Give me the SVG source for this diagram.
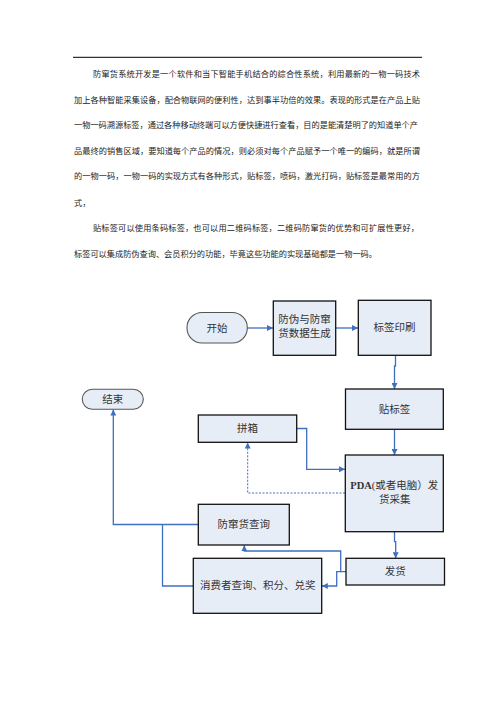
<svg xmlns="http://www.w3.org/2000/svg" width="496" height="702" viewBox="0 0 496 702">
<style>
.p{font-family:"Noto Sans CJK SC","Liberation Sans",sans-serif;font-size:8.2px;fill:#222;dominant-baseline:central}
.box{fill:#E7EDF7;stroke:#111;stroke-width:1.3}
.term{fill:#E7EDF7;stroke:#555;stroke-width:1.1}
.t{font-family:"Liberation Serif","Noto Sans CJK SC",serif;font-size:10.5px;fill:#333;text-anchor:middle;dominant-baseline:central}
.c{fill:none;stroke:#3F6FC2;stroke-width:1.3}
.d{fill:none;stroke:#3F6FC2;stroke-width:1;stroke-dasharray:2 1.5}
</style>
<defs>
<marker id="ah" viewBox="0 0 10 10" refX="10" refY="5" markerWidth="6" markerHeight="6" markerUnits="userSpaceOnUse" orient="auto">
<path d="M0,0 L10,5 L0,10 Z" fill="#3F6FC2"/>
</marker>
</defs>
<rect width="496" height="702" fill="#fff"/>
<line x1="73" y1="57.3" x2="422" y2="57.3" stroke="#000" stroke-width="1"/>
<g id="paragraph">
<text class="p" x="93" y="73.3" textLength="327" lengthAdjust="spacing">防窜货系统开发是一个软件和当下智能手机结合的综合性系统，利用最新的一物一码技术</text>
<text class="p" x="74" y="99" textLength="346" lengthAdjust="spacing">加上各种智能采集设备，配合物联网的便利性，达到事半功倍的效果。表现的形式是在产品上贴</text>
<text class="p" x="74" y="124.3" textLength="344" lengthAdjust="spacing">一物一码溯源标签，通过各种移动终端可以方便快捷进行查看，目的是能清楚明了的知道单个产</text>
<text class="p" x="74" y="150" textLength="346" lengthAdjust="spacing">品最终的销售区域，要知道每个产品的情况，则必须对每个产品赋予一个唯一的编码，就是所谓</text>
<text class="p" x="74" y="175.3" textLength="346" lengthAdjust="spacing">的一物一码，一物一码的实现方式有各种形式，贴标签，喷码，激光打码，贴标签是最常用的方</text>
<text class="p" x="74" y="201.5">式，</text>
<text class="p" x="93" y="227.3" textLength="326" lengthAdjust="spacing">贴标签可以使用条码标签，也可以用二维码标签，二维码防窜货的优势和可扩展性更好，</text>
<text class="p" x="74" y="252.5">标签可以集成防伪查询、会员积分的功能，毕竟这些功能的实现基础都是一物一码。</text>
</g>
<g id="connectors">
<path class="c" d="M247.3,328 H273" marker-end="url(#ah)"/>
<path class="c" d="M336,328 H358" marker-end="url(#ah)"/>
<path class="c" d="M395.5,355.5 V366 H394.5 V389" marker-end="url(#ah)"/>
<path class="c" d="M394.5,429.5 V455" marker-end="url(#ah)"/>
<path class="c" d="M297,428.5 H306.7 V469.3 H345" marker-end="url(#ah)"/>
<path class="d" d="M345,493 H247.7 V442.5" marker-end="url(#ah)"/>
<path class="c" d="M394.5,532 V541.7 H395.7 V558.3" marker-end="url(#ah)"/>
<path class="c" d="M346,571.7 H340.7 V551 H244.3 V545.3" marker-end="url(#ah)"/>
<path class="c" d="M340.7,571.7 H336.7 V586 H321.8" marker-end="url(#ah)"/>
<path class="c" d="M198.3,524.5 H113.3 V409.5" marker-end="url(#ah)"/>
<path class="c" d="M193.3,586 H162.5 V524.5"/>
</g>
<g id="start">
<rect class="term" x="187" y="312.5" width="60.3" height="30.5" rx="15" ry="15"/>
<text class="t" x="217" y="328">开始</text>
</g>
<g id="gen">
<rect class="box" x="273.3" y="301" width="62.4" height="54.3"/>
<text class="t" x="304.5" y="319.3">防伪与防窜</text>
<text class="t" x="304.5" y="333.5">货数据生成</text>
</g>
<g id="print">
<rect class="box" x="358.3" y="300.3" width="72.7" height="55"/>
<text class="t" x="394.6" y="327.7">标签印刷</text>
</g>
<g id="label">
<rect class="box" x="345.5" y="389" width="97.8" height="40.3"/>
<text class="t" x="394.4" y="409.2">贴标签</text>
</g>
<g id="end">
<rect class="term" x="82.3" y="389.3" width="61" height="20" rx="10" ry="10"/>
<text class="t" x="112.8" y="399.5">结束</text>
</g>
<g id="pack">
<rect class="box" x="198.3" y="415" width="98.4" height="27.3"/>
<text class="t" x="247.5" y="428.7">拼箱</text>
</g>
<g id="pda">
<rect class="box" x="345.3" y="455" width="98" height="76.7"/>
<text class="t" x="394.3" y="485"><tspan font-weight="bold">PDA</tspan>(或者电脑）发</text>
<text class="t" x="394.7" y="499.5">货采集</text>
</g>
<g id="query">
<rect class="box" x="198.3" y="504.3" width="91" height="40.7"/>
<text class="t" x="243.8" y="524.7">防窜货查询</text>
</g>
<g id="ship">
<rect class="box" x="346" y="558.3" width="98.5" height="26.7"/>
<text class="t" x="395.2" y="571.7">发货</text>
</g>
<g id="consumer">
<rect class="box" x="193.3" y="558.3" width="128.4" height="55"/>
<text class="t" x="257.8" y="585.7">消费者查询、积分、兑奖</text>
</g>
</svg>
